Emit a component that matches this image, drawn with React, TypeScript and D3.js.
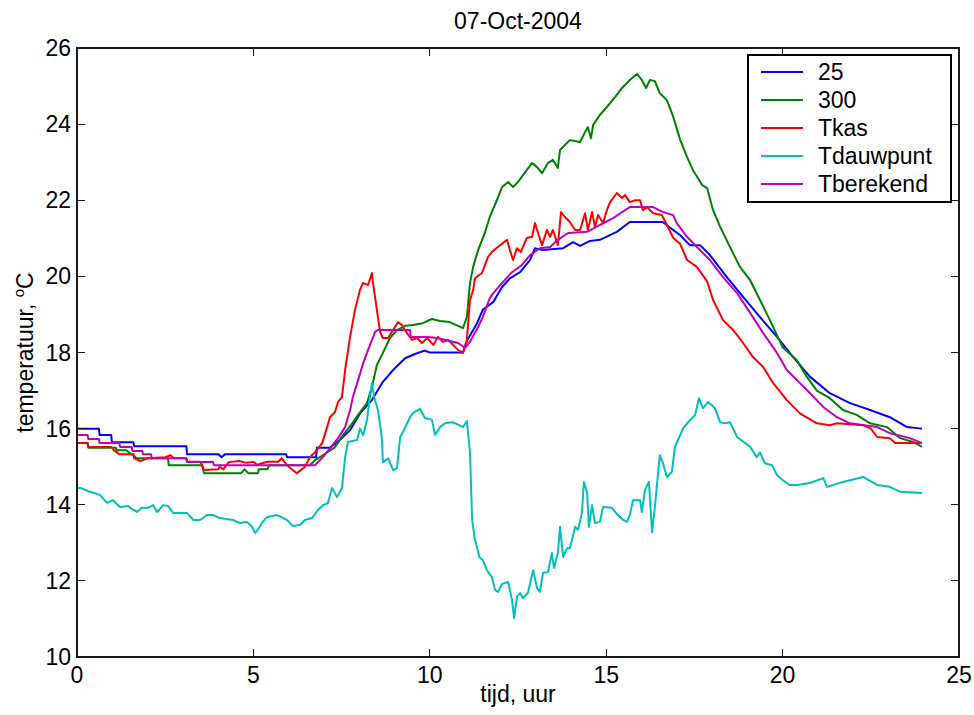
import React from "react";
import * as d3 from "d3";

// Temperature logs for 07-Oct-2004, [hour, °C]
const series25: [number, number][] = [
  [0, 16.0], [0.62, 16.0], [0.64, 15.83], [0.97, 15.83], [0.99, 15.64], [1.6, 15.64], [1.62, 15.54],
  [3.1, 15.54], [3.12, 15.33], [4.0, 15.33], [4.1, 15.25], [4.2, 15.33], [5.93, 15.33], [5.95, 15.25],
  [6.78, 15.25], [6.8, 15.5], [7.17, 15.5], [7.45, 15.7], [7.74, 15.96], [8.02, 16.4], [8.36, 16.75],
  [8.67, 17.23], [8.96, 17.54], [9.3, 17.85], [9.58, 17.96], [9.85, 18.05], [10.0, 18.0], [10.94, 18.0],
  [11.05, 18.3], [11.34, 18.77], [11.5, 19.12], [11.8, 19.33], [12.05, 19.72], [12.27, 19.95],
  [12.56, 20.11], [12.84, 20.43], [12.98, 20.74], [13.2, 20.69], [13.78, 20.74], [14.06, 20.9],
  [14.26, 20.8], [14.54, 20.93], [14.82, 20.96], [15.3, 21.17], [15.67, 21.43], [16.6, 21.43],
  [16.9, 21.22], [17.1, 21.08], [17.37, 20.82], [17.66, 20.82], [17.94, 20.56], [18.42, 19.98],
  [18.88, 19.46], [19.36, 18.93], [19.84, 18.41], [20.3, 17.88], [20.78, 17.36], [21.34, 16.93],
  [21.91, 16.67], [22.48, 16.49], [23.04, 16.3], [23.53, 16.04], [23.95, 16.0],
];

const series300: [number, number][] = [
  [0, 15.62], [0.3, 15.62], [0.32, 15.5], [1.1, 15.5], [1.12, 15.43], [1.4, 15.43], [1.7, 15.22],
  [2.58, 15.22], [2.6, 15.04], [3.55, 15.04], [3.6, 14.83], [4.65, 14.83], [4.75, 14.93], [4.85, 14.83],
  [5.13, 14.83], [5.15, 14.93], [5.4, 14.93], [5.45, 15.04], [6.6, 15.04], [6.75, 15.17], [6.97, 15.3],
  [7.3, 15.5], [7.54, 15.83], [7.8, 16.14], [8.0, 16.4], [8.22, 16.67], [8.36, 17.09], [8.5, 17.67],
  [8.67, 17.99], [8.87, 18.38], [9.07, 18.59], [9.3, 18.7], [9.52, 18.72], [9.8, 18.77], [10.06, 18.88],
  [10.29, 18.83], [10.57, 18.8], [10.8, 18.7], [10.94, 18.64], [11.05, 18.93], [11.14, 19.83],
  [11.23, 20.25], [11.37, 20.69], [11.56, 21.14], [11.7, 21.56], [11.9, 22.0], [12.05, 22.35],
  [12.22, 22.48], [12.36, 22.35], [12.5, 22.48], [12.64, 22.66], [12.9, 22.98], [13.04, 22.87],
  [13.18, 22.71], [13.35, 22.98], [13.49, 23.06], [13.63, 22.85], [13.69, 23.32], [13.97, 23.58],
  [14.26, 23.53], [14.4, 23.79], [14.48, 23.92], [14.57, 23.63], [14.63, 23.98], [14.82, 24.24],
  [15.02, 24.45], [15.25, 24.71], [15.45, 24.95], [15.67, 25.16], [15.87, 25.32], [16.01, 25.16],
  [16.13, 24.95], [16.24, 25.16], [16.38, 25.13], [16.52, 24.81], [16.72, 24.63], [16.9, 24.19],
  [17.1, 23.58], [17.29, 23.14], [17.46, 22.79], [17.72, 22.4], [17.86, 22.32], [18.03, 21.74],
  [18.23, 21.3], [18.51, 20.77], [18.79, 20.25], [19.08, 19.9], [19.36, 19.38], [19.64, 18.85],
  [20.0, 18.14], [20.4, 17.8], [20.69, 17.36], [20.97, 17.0], [21.34, 16.8], [21.71, 16.49],
  [22.1, 16.36], [22.48, 16.14], [22.96, 16.04], [23.33, 15.75], [23.7, 15.65], [23.95, 15.52],
];

const seriesTkas: [number, number][] = [
  [0, 15.62], [0.3, 15.62], [0.32, 15.52], [0.97, 15.52], [1.05, 15.43], [1.2, 15.33], [1.6, 15.33],
  [1.62, 15.22], [1.8, 15.15], [2.0, 15.22], [2.5, 15.25], [2.65, 15.3], [2.75, 15.22], [3.1, 15.22],
  [3.12, 15.13], [3.5, 15.13], [3.6, 14.91], [4.0, 14.93], [4.05, 15.0], [4.15, 14.93], [4.3, 15.12],
  [4.6, 15.15], [4.8, 15.1], [5.0, 15.13], [5.1, 15.05], [5.4, 15.13], [5.7, 15.13], [5.8, 15.22],
  [5.9, 15.1], [6.0, 15.0], [6.23, 14.83], [6.46, 14.99], [6.6, 15.25], [6.75, 15.38], [6.95, 15.62],
  [7.09, 16.04], [7.17, 16.3], [7.31, 16.43], [7.4, 16.7], [7.51, 16.83], [7.6, 17.54], [7.74, 18.41],
  [7.88, 19.12], [8.02, 19.64], [8.11, 19.83], [8.25, 19.77], [8.36, 20.09], [8.39, 19.83], [8.5, 19.12],
  [8.59, 18.54], [8.67, 18.38], [8.82, 18.38], [8.96, 18.59], [9.1, 18.8], [9.21, 18.72], [9.35, 18.51],
  [9.5, 18.33], [9.64, 18.38], [9.78, 18.25], [9.92, 18.38], [10.1, 18.2], [10.23, 18.41],
  [10.37, 18.28], [10.52, 18.33], [10.66, 18.2], [10.8, 18.07], [10.94, 17.99], [11.05, 18.33],
  [11.14, 19.38], [11.23, 19.64], [11.28, 19.95], [11.48, 20.09], [11.65, 20.51], [11.76, 20.64],
  [11.93, 20.77], [12.19, 20.96], [12.27, 20.69], [12.36, 20.43], [12.47, 20.74], [12.58, 20.64],
  [12.75, 21.01], [12.9, 21.04], [12.98, 21.4], [13.07, 21.14], [13.18, 20.82], [13.32, 21.22],
  [13.41, 21.04], [13.49, 21.22], [13.63, 20.82], [13.72, 21.69], [13.83, 21.56], [13.97, 21.43],
  [14.12, 21.22], [14.26, 21.22], [14.4, 21.66], [14.48, 21.22], [14.6, 21.69], [14.68, 21.3],
  [14.77, 21.61], [14.91, 21.4], [15.02, 21.74], [15.11, 21.95], [15.3, 22.19], [15.45, 22.06],
  [15.53, 22.14], [15.67, 21.95], [15.82, 22.0], [15.96, 22.0], [16.04, 21.74], [16.16, 21.82],
  [16.33, 21.66], [16.58, 21.61], [16.72, 21.35], [16.9, 21.01], [17.1, 20.85], [17.29, 20.43],
  [17.57, 20.25], [17.86, 19.87], [18.03, 19.38], [18.31, 18.85], [18.6, 18.59], [18.88, 18.25],
  [19.16, 17.88], [19.45, 17.62], [19.73, 17.2], [20.12, 16.75], [20.49, 16.4], [20.97, 16.14],
  [21.34, 16.09], [21.54, 16.14], [22.28, 16.09], [22.5, 16.0], [22.68, 15.78], [23.04, 15.75],
  [23.19, 15.62], [23.95, 15.62],
];

const seriesTdauwpunt: [number, number][] = [
  [0, 14.44], [0.1, 14.44], [0.37, 14.34], [0.65, 14.26], [0.85, 14.05], [1.02, 14.12], [1.22, 13.94],
  [1.45, 13.97], [1.55, 13.89], [1.7, 13.81], [1.84, 13.92], [2.02, 13.92], [2.16, 13.99], [2.27, 13.81],
  [2.44, 13.99], [2.58, 13.97], [2.73, 13.78], [3.12, 13.78], [3.3, 13.6], [3.49, 13.6], [3.68, 13.73],
  [3.86, 13.73], [4.05, 13.65], [4.42, 13.6], [4.62, 13.52], [4.82, 13.55], [4.96, 13.42], [5.05, 13.26],
  [5.13, 13.34], [5.24, 13.52], [5.39, 13.68], [5.67, 13.73], [5.95, 13.6], [6.12, 13.44], [6.32, 13.47],
  [6.46, 13.6], [6.66, 13.65], [6.83, 13.86], [6.97, 13.99], [7.11, 14.04], [7.23, 14.44], [7.37, 14.2],
  [7.51, 14.44], [7.6, 15.25], [7.68, 15.65], [7.94, 15.7], [8.02, 16.0], [8.11, 15.83], [8.22, 16.23],
  [8.28, 16.67], [8.36, 17.2], [8.42, 16.83], [8.53, 16.49], [8.64, 15.78], [8.67, 15.12], [8.82, 15.22],
  [8.96, 14.91], [9.07, 14.96], [9.16, 15.78], [9.24, 15.91], [9.44, 16.3], [9.52, 16.41], [9.72, 16.52],
  [9.86, 16.28], [10.06, 16.23], [10.15, 15.83], [10.29, 16.04], [10.43, 16.14], [10.63, 16.17],
  [10.77, 16.12], [10.94, 16.04], [11.05, 16.2], [11.14, 15.36], [11.2, 13.6], [11.28, 13.07],
  [11.34, 12.89], [11.4, 12.63], [11.5, 12.55], [11.62, 12.28], [11.76, 12.1], [11.85, 11.76],
  [11.93, 11.71], [12.05, 11.92], [12.22, 11.97], [12.33, 11.5], [12.39, 11.02], [12.47, 11.58],
  [12.56, 11.68], [12.64, 11.55], [12.78, 11.68], [12.93, 12.28], [13.04, 11.81], [13.12, 11.71],
  [13.21, 12.21], [13.35, 12.23], [13.46, 12.73], [13.52, 12.34], [13.63, 12.73], [13.69, 13.42],
  [13.78, 12.63], [13.89, 12.86], [13.97, 12.86], [14.12, 13.42], [14.2, 13.34], [14.31, 13.78],
  [14.37, 14.6], [14.46, 14.31], [14.51, 13.42], [14.6, 13.99], [14.68, 13.52], [14.82, 13.55],
  [14.91, 13.94], [15.16, 13.92], [15.33, 13.73], [15.48, 13.6], [15.59, 13.55], [15.67, 13.73],
  [15.76, 14.12], [15.96, 14.12], [16.01, 13.81], [16.1, 14.39], [16.21, 14.6], [16.3, 13.28],
  [16.38, 13.94], [16.47, 14.83], [16.52, 15.3], [16.61, 15.09], [16.72, 14.73], [16.86, 14.86],
  [16.95, 15.52], [17.18, 16.01], [17.38, 16.23], [17.52, 16.36], [17.63, 16.8], [17.74, 16.54],
  [17.89, 16.7], [18.08, 16.54], [18.23, 16.17], [18.37, 16.14], [18.51, 16.17], [18.71, 15.78],
  [19.08, 15.52], [19.27, 15.25], [19.36, 15.38], [19.5, 15.09], [19.7, 15.04], [19.84, 14.78],
  [20.0, 14.65], [20.2, 14.52], [20.4, 14.52], [20.78, 14.57], [21.15, 14.7], [21.26, 14.47],
  [21.71, 14.6], [22.28, 14.73], [22.68, 14.52], [23.04, 14.47], [23.33, 14.34], [23.95, 14.31],
];

const seriesTberekend: [number, number][] = [
  [0, 15.83], [0.3, 15.83], [0.32, 15.73], [0.62, 15.73], [0.64, 15.62], [1.2, 15.62], [1.22, 15.52],
  [1.55, 15.52], [1.57, 15.41], [1.85, 15.41], [1.87, 15.33], [2.1, 15.33], [2.12, 15.22], [3.1, 15.22],
  [3.12, 15.12], [3.86, 15.12], [3.88, 15.04], [6.75, 15.04], [6.97, 15.25], [7.17, 15.48], [7.4, 15.75],
  [7.6, 16.04], [7.74, 16.49], [7.82, 16.83], [7.97, 17.28], [8.11, 17.72], [8.25, 18.07], [8.45, 18.54],
  [8.53, 18.59], [9.44, 18.59], [9.46, 18.41], [9.92, 18.41], [10.2, 18.38], [10.57, 18.3], [10.8, 18.25],
  [11.0, 18.12], [11.14, 18.28], [11.37, 18.67], [11.5, 18.93], [11.7, 19.43], [11.8, 19.56],
  [12.05, 19.83], [12.33, 20.11], [12.61, 20.3], [12.84, 20.56], [13.12, 20.74], [13.41, 20.77],
  [13.63, 20.96], [13.92, 21.14], [14.46, 21.17], [14.82, 21.35], [15.2, 21.53], [15.45, 21.69],
  [15.67, 21.82], [16.33, 21.82], [16.61, 21.69], [16.9, 21.61], [17.0, 21.4], [17.29, 21.04],
  [17.57, 20.77], [17.94, 20.43], [18.31, 19.98], [18.71, 19.56], [19.08, 19.04], [19.45, 18.51],
  [19.84, 17.99], [20.12, 17.54], [20.4, 17.28], [20.78, 16.93], [21.15, 16.57], [21.54, 16.3],
  [21.91, 16.14], [22.68, 16.04], [23.04, 15.88], [23.61, 15.75], [23.95, 15.62],
];

const seriesNames = ["25", "300", "Tkas", "Tdauwpunt", "Tberekend"];
const seriesColors = ["#0000ff", "#008000", "#ff0000", "#00bfbf", "#bf00bf"];
const seriesData = [series25, series300, seriesTkas, seriesTdauwpunt, seriesTberekend];

const xTicks = [0, 5, 10, 15, 20, 25];
const yTicks = [10, 12, 14, 16, 18, 20, 22, 24, 26];

const titleText = "07-Oct-2004";
const xLabelText = "tijd, uur";

const W = 974;
const H = 715;
const plot = { left: 77, top: 48, right: 959, bottom: 657 };
const FONT = "'Liberation Sans', Arial, Helvetica, sans-serif";
const FS = 23;
const TICK = 8;

export default function App() {
  const x = d3.scaleLinear().domain([0, 25]).range([plot.left, plot.right]);
  const y = d3.scaleLinear().domain([10, 26]).range([plot.bottom, plot.top]);
  const line = d3
    .line<[number, number]>()
    .x((d) => x(d[0]))
    .y((d) => y(d[1]));

  const axisColor = "#1a1a1a";
  const legend = { x: 748, y: 55, w: 203, h: 147, row0: 72, rowGap: 28 };

  return (
    <svg
      width={W}
      height={H}
      style={{ position: "absolute", left: 0, top: 0, background: "#fff" }}
      fontFamily={FONT}
    >
      <rect x={0} y={0} width={W} height={H} fill="#fff" />

      {/* data lines */}
      <g fill="none" strokeWidth={2} strokeLinejoin="round">
        {seriesData.map((d, i) => (
          <path key={seriesNames[i]} d={line(d) || ""} stroke={seriesColors[i]} />
        ))}
      </g>

      {/* axes box and inward ticks */}
      <g stroke={axisColor} strokeWidth={1.2} shapeRendering="crispEdges">
        <rect
          x={plot.left}
          y={plot.top}
          width={plot.right - plot.left}
          height={plot.bottom - plot.top}
          fill="none"
        />
        {xTicks.map((t) => (
          <g key={"xt" + t}>
            <line x1={x(t)} x2={x(t)} y1={plot.bottom} y2={plot.bottom - TICK} />
            <line x1={x(t)} x2={x(t)} y1={plot.top} y2={plot.top + TICK} />
          </g>
        ))}
        {yTicks.map((t) => (
          <g key={"yt" + t}>
            <line x1={plot.left} x2={plot.left + TICK} y1={y(t)} y2={y(t)} />
            <line x1={plot.right} x2={plot.right - TICK} y1={y(t)} y2={y(t)} />
          </g>
        ))}
      </g>

      {/* tick labels */}
      <g fontSize={FS} fill="#000">
        {xTicks.map((t) => (
          <text key={"xl" + t} x={x(t)} y={plot.bottom + 26} textAnchor="middle">
            {t}
          </text>
        ))}
        {yTicks.map((t) => (
          <text key={"yl" + t} x={plot.left - 6} y={y(t) + 8} textAnchor="end">
            {t}
          </text>
        ))}
      </g>

      {/* titles */}
      <text x={(plot.left + plot.right) / 2} y={29} textAnchor="middle" fontSize={FS}>
        {titleText}
      </text>
      <text x={(plot.left + plot.right) / 2} y={702} textAnchor="middle" fontSize={FS}>
        {xLabelText}
      </text>
      <text
        transform={`translate(33, ${(plot.top + plot.bottom) / 2}) rotate(-90)`}
        textAnchor="middle"
        fontSize={FS}
      >
        temperatuur,{" "}
        <tspan dy={-9} fontSize={15}>
          o
        </tspan>
        <tspan dy={9}>C</tspan>
      </text>

      {/* legend */}
      <g>
        <rect
          x={legend.x}
          y={legend.y}
          width={legend.w}
          height={legend.h}
          fill="#fff"
          stroke="#000"
          strokeWidth={1.2}
          shapeRendering="crispEdges"
        />
        {seriesNames.map((name, i) => {
          const yy = legend.row0 + i * legend.rowGap;
          return (
            <g key={"lg" + name}>
              <line x1={761} x2={803} y1={yy} y2={yy} stroke={seriesColors[i]} strokeWidth={2} />
              <text x={818} y={yy + 8} fontSize={FS}>
                {name}
              </text>
            </g>
          );
        })}
      </g>
    </svg>
  );
}
